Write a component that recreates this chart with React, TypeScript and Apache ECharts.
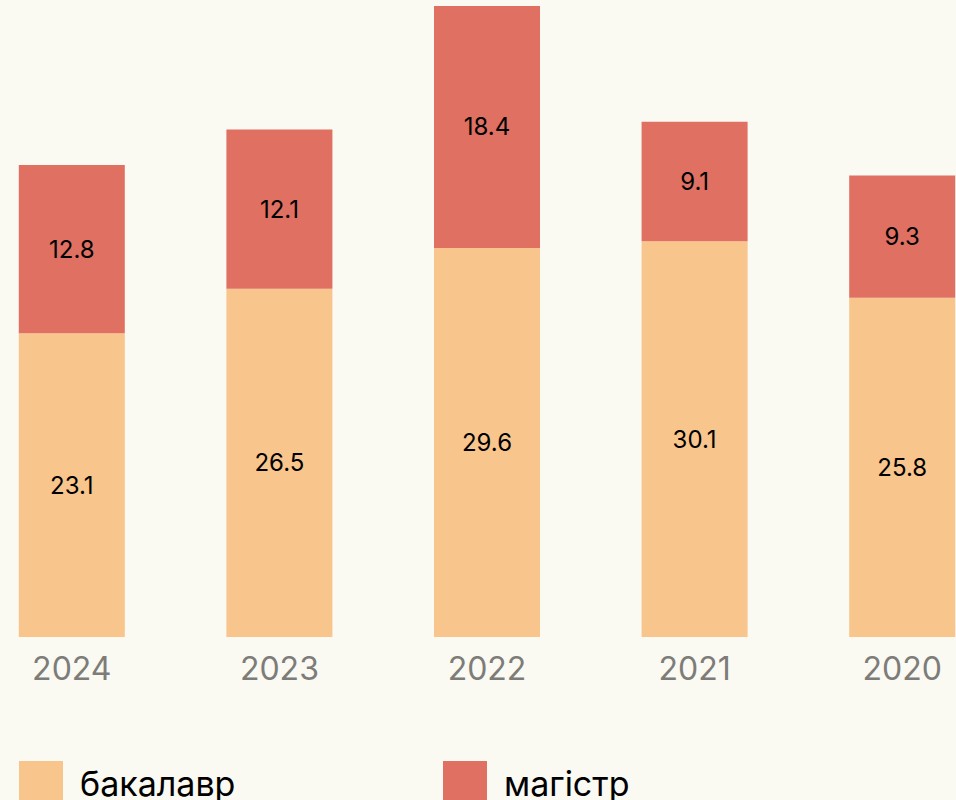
import React, { useEffect, useRef } from "react";
import * as echarts from "echarts";

const years = ["2024", "2023", "2022", "2021", "2020"];
const bachelor = [23.1, 26.5, 29.6, 30.1, 25.8];
const master = [12.8, 12.1, 18.4, 9.1, 9.3];
const seriesNames = ["бакалавр", "магістр"];

const FONT = "Inter, 'Noto Sans', sans-serif";
const SHIFT = 32;

export default function App() {
  const ref = useRef<HTMLDivElement>(null);
  useEffect(() => {
    if (!ref.current) return;
    const chart = echarts.init(ref.current, null, { renderer: "svg" });
    const label = {
      show: true,
      position: "inside",
      color: "#000",
      fontSize: 24,
      fontFamily: FONT,
    };
    const legendText = {
      fontSize: 34,
      color: "#000",
      fontFamily: FONT,
      padding: [0, 0, 6, 12],
    };
    chart.setOption({
      animation: false,
      backgroundColor: "#FAF9F2",
      textStyle: { fontFamily: FONT },
      grid: { left: 0, right: 0, top: 6, bottom: 163 },
      legend: [
        {
          data: [seriesNames[0]],
          left: 19 + SHIFT,
          top: 761,
          padding: 0,
          itemWidth: 44,
          itemHeight: 44,
          icon: "rect",
          textStyle: legendText,
        },
        {
          data: [seriesNames[1]],
          left: 443 + SHIFT,
          top: 761,
          padding: 0,
          itemWidth: 44,
          itemHeight: 44,
          icon: "rect",
          textStyle: legendText,
        },
      ],
      xAxis: {
        type: "category",
        data: years,
        axisLine: { show: false },
        axisTick: { show: false },
        axisLabel: { color: "#7d7c78", fontSize: 32, margin: 15, fontFamily: FONT },
      },
      yAxis: {
        type: "value",
        min: 0,
        max: 48,
        show: false,
        splitLine: { show: false },
      },
      series: [
        {
          name: seriesNames[0],
          type: "bar",
          stack: "total",
          barWidth: 106,
          data: bachelor,
          itemStyle: { color: "#F8C58C" },
          label,
        },
        {
          name: seriesNames[1],
          type: "bar",
          stack: "total",
          barWidth: 106,
          data: master,
          itemStyle: { color: "#DF7062" },
          label,
        },
      ],
    });
    return () => chart.dispose();
  }, []);
  return (
    <div
      style={{ position: "fixed", left: 0, top: 0, width: 956, height: 800, overflow: "hidden", background: "#FAF9F2" }}
    >
      <div
        ref={ref}
        style={{ position: "absolute", left: -SHIFT, top: 0, width: 1037.5, height: 800 }}
      />
    </div>
  );
}
